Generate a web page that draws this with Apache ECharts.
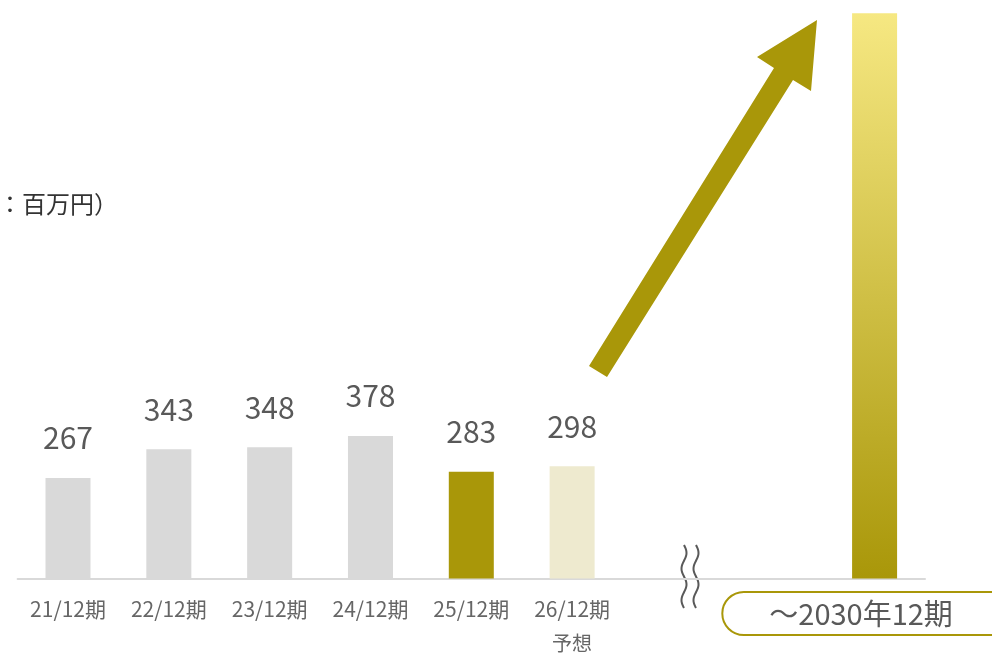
<!DOCTYPE html>
<html lang="ja">
<head>
    <meta charset="UTF-8">
    <title>業績推移</title>
    <style>
        html, body { margin: 0; padding: 0; background: #fff; }
        #main { width: 992px; height: 653px; }
    </style>
</head>
<body>
<div id="main"></div>
<script src="https://cdn.jsdelivr.net/npm/echarts@6/dist/echarts.min.js"></script>
<script>
    const myChart = echarts.init(document.getElementById('main'));

    // 期（空の2つはグラフの省略部分）
    const categories = ['21/12期', '22/12期', '23/12期', '24/12期', '25/12期', '26/12期', '', '', '～2030年12期'];
    // 売上（百万円）
    const values = [267, 343, 348, 378, 283, 298, null, null, 1500];
    // 棒の種類: past / actual / forecast / goal
    const kinds = ['past', 'past', 'past', 'past', 'actual', 'forecast', '', '', 'goal'];
    // ラベル2行目
    const notes = ['', '', '', '', '', '予想', '', '', ''];
    const unitText = '（単位：百万円）';

    const olive = '#a99709';
    const font = 'Noto Sans CJK JP';
    const colorOf = {
        past: '#d9d9d9',
        actual: olive,
        forecast: '#eeeacf',
        goal: new echarts.graphic.LinearGradient(0, 0, 0, 1, [
            {offset: 0, color: '#f6e882'},
            {offset: 1, color: olive}
        ])
    };

    /*省略記号の波線*/
    function wave(x0) {
        const pts = [];
        for (let i = 0; i <= 24; i++) {
            const t = i / 24;
            pts.push([x0 + 2.5 * Math.sin(t * Math.PI * 4), 545 + t * 63]);
        }
        return {
            type: 'polyline', silent: true,
            shape: {points: pts, smooth: 0.4},
            style: {stroke: '#595959', lineWidth: 2, fill: null}
        };
    }

    const option = {
        animation: false,
        grid: {left: 17.6, right: 67, top: 2, bottom: 74.5, containLabel: false, outerBoundsMode: 'none'},
        xAxis: {
            type: 'category',
            data: categories,
            axisTick: {show: false},
            axisLine: {lineStyle: {color: '#d9d9d9', width: 2}},
            axisLabel: {
                interval: 0,
                margin: 20,
                hideOverlap: false,
                formatter: function (v, i) {
                    if (!v) return '';
                    if (kinds[i] === 'goal') return '{box|' + v + '}';
                    return '{a|' + v + '}' + (notes[i] ? '\n{b|' + notes[i] + '}' : '');
                },
                rich: {
                    a: {fontSize: 21, lineHeight: 22, color: '#666', fontFamily: font},
                    b: {fontSize: 20, lineHeight: 46, color: '#666', fontFamily: font},
                    box: {
                        fontSize: 29, lineHeight: 30, color: '#595959', fontFamily: font,
                        borderColor: olive, borderWidth: 2, borderRadius: 22,
                        padding: [7, 74, 7, 47]
                    }
                }
            }
        },
        yAxis: {type: 'value', show: false, min: 0, max: 1530, splitLine: {show: false}},
        series: [{
            type: 'bar',
            barWidth: 45,
            data: values.map((v, i) => ({
                value: v,
                itemStyle: {color: colorOf[kinds[i]] || '#d9d9d9'}
            })),
            label: {
                show: true,
                position: 'top',
                distance: 25,
                fontSize: 30,
                color: '#595959',
                fontFamily: font,
                formatter: p => (kinds[p.dataIndex] === 'goal' ? '' : p.value)
            }
        }],
        graphic: [
            {
                type: 'text', left: -74, top: 192, silent: true,
                style: {text: unitText, fontSize: 24, fill: '#333', fontFamily: font}
            },
            {
                // 成長を示す矢印
                type: 'polygon', silent: true,
                shape: {points: [[589, 366], [774, 68], [757, 57], [817, 20], [811, 91], [793, 80], [607, 377]]},
                style: {fill: olive}
            },
            wave(684),
            wave(696)
        ]
    };

    myChart.setOption(option);
</script>
</body>
</html>
